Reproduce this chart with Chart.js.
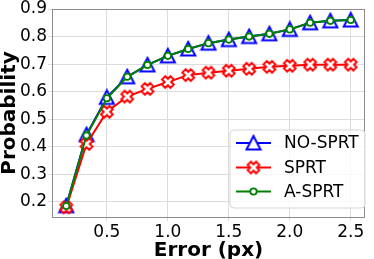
<!DOCTYPE html>
<html><head><meta charset="utf-8">
<script src="https://cdn.jsdelivr.net/npm/chart.js@4/dist/chart.umd.min.js"></script>
<style>html,body{margin:0;padding:0;background:#fff}#wrap{width:374px;height:259px}</style>
</head><body><div id="wrap"><canvas id="c" width="374" height="259"></canvas></div>
<script>
const errors = [0.167, 0.333, 0.5, 0.667, 0.833, 1.0, 1.167, 1.333, 1.5, 1.667, 1.833, 2.0, 2.167, 2.333, 2.5];
const noSprt = [0.186, 0.444, 0.579, 0.654, 0.697, 0.730, 0.755, 0.776, 0.789, 0.800, 0.810, 0.826, 0.850, 0.857, 0.860];
const sprt   = [0.180, 0.410, 0.527, 0.582, 0.610, 0.635, 0.660, 0.669, 0.676, 0.683, 0.690, 0.694, 0.698, 0.698, 0.698];
const aSprt  = [0.185, 0.441, 0.576, 0.654, 0.697, 0.730, 0.755, 0.776, 0.789, 0.800, 0.810, 0.826, 0.850, 0.857, 0.860];
const seriesLabels = ['NO-SPRT', 'SPRT', 'A-SPRT'];
const xTicks = [0.5, 1.0, 1.5, 2.0, 2.5];
const yTicks = [0.2, 0.3, 0.4, 0.5, 0.6, 0.7, 0.8, 0.9];

Chart.defaults.font.family = 'DejaVu Sans';
Chart.defaults.color = '#000';

function triImg(){
  const c = document.createElement('canvas'); c.width = 18; c.height = 18;
  const g = c.getContext('2d');
  g.beginPath(); g.moveTo(9, 2); g.lineTo(2, 15.5); g.lineTo(16, 15.5); g.closePath();
  g.fillStyle = '#fff'; g.fill();
  g.lineWidth = 2; g.strokeStyle = '#0000ff'; g.lineJoin = 'miter'; g.stroke();
  return c;
}
function xImg(){
  const c = document.createElement('canvas'); c.width = 18; c.height = 18;
  const g = c.getContext('2d');
  const a = 2.3, b = 6.0;
  const pts = [[a,b],[a,a],[b,a],[b,-a],[a,-a],[a,-b],[-a,-b],[-a,-a],[-b,-a],[-b,a],[-a,a],[-a,b]];
  g.translate(9, 9); g.rotate(Math.PI/4);
  g.beginPath();
  pts.forEach((p,i)=>{ i ? g.lineTo(p[0],p[1]) : g.moveTo(p[0],p[1]); });
  g.closePath();
  g.fillStyle = '#fff'; g.fill();
  g.lineWidth = 2; g.strokeStyle = '#ff0000'; g.lineJoin = 'miter'; g.stroke();
  return c;
}
const tri = triImg(), xm = xImg();

function pts(ys){ return errors.map((x,i)=>({x:x, y:ys[i]})); }

const frame = {
  id: 'frame',
  beforeDatasetsDraw(chart){
    const {ctx, chartArea:a} = chart;
    ctx.save(); ctx.strokeStyle = '#8c8c8c'; ctx.lineWidth = 1;
    ctx.strokeRect(Math.round(a.left)+0.5, Math.round(a.top)+0.5, Math.round(a.right-a.left)-1, Math.round(a.bottom-a.top));
    ctx.restore();
  }
};
const legendBox = {
  id: 'legendBox',
  afterDraw(chart){
    const ctx = chart.ctx;
    const x0 = 230, y0 = 130, w = 135, h = 78, r = 4;
    ctx.save();
    ctx.beginPath();
    ctx.moveTo(x0+r, y0); ctx.lineTo(x0+w-r, y0); ctx.arcTo(x0+w, y0, x0+w, y0+r, r);
    ctx.lineTo(x0+w, y0+h-r); ctx.arcTo(x0+w, y0+h, x0+w-r, y0+h, r);
    ctx.lineTo(x0+r, y0+h); ctx.arcTo(x0, y0+h, x0, y0+h-r, r);
    ctx.lineTo(x0, y0+r); ctx.arcTo(x0, y0, x0+r, y0, r); ctx.closePath();
    ctx.fillStyle = 'rgba(255,255,255,0.8)'; ctx.fill();
    ctx.strokeStyle = '#d6d6d6'; ctx.lineWidth = 1; ctx.stroke();
    const rows = [143, 167.5, 191.5];
    chart.data.datasets.forEach((ds, i) => {
      const y = rows[i];
      ctx.strokeStyle = ds.borderColor; ctx.lineWidth = 2;
      ctx.beginPath(); ctx.moveTo(236, y); ctx.lineTo(271, y); ctx.stroke();
      if (i === 0) ctx.drawImage(tri, 253.5-9, y-9);
      else if (i === 1) ctx.drawImage(xm, 253.5-9, y-9);
      else { ctx.beginPath(); ctx.arc(253.5, y, 3.2, 0, Math.PI*2); ctx.fillStyle='#fff'; ctx.fill(); ctx.strokeStyle = ds.borderColor; ctx.lineWidth=1.8; ctx.stroke(); }
      ctx.fillStyle = '#000'; ctx.font = '17px "DejaVu Sans"'; ctx.textBaseline = 'middle'; ctx.textAlign = 'left';
      ctx.fillText(ds.label, 284, y+1);
    });
    ctx.restore();
  }
};

new Chart(document.getElementById('c'), {
  type: 'line',
  data: { datasets: [
    { label: seriesLabels[0], data: pts(noSprt), borderColor: '#0000ff', borderWidth: 2, pointStyle: tri, pointRadius: 7, order: 3 },
    { label: seriesLabels[1], data: pts(sprt), borderColor: '#ff0000', borderWidth: 2, pointStyle: xm, pointRadius: 7, order: 2 },
    { label: seriesLabels[2], data: pts(aSprt), borderColor: '#008000', backgroundColor: '#fff', borderWidth: 2, pointStyle: 'circle', pointRadius: 3.2, pointBorderWidth: 1.8, order: 1 }
  ]},
  options: {
    responsive: false, animation: false, devicePixelRatio: 1,
    layout: { padding: { top: 6, right: 1, left: 0, bottom: 0 } },
    plugins: { legend: { display: false }, tooltip: { enabled: false } },
    elements: { line: { tension: 0 } },
    scales: {
      x: {
        type: 'linear', min: 0.05, max: 2.617,
        afterBuildTicks: s => { s.ticks = xTicks.map(v => ({ value: v })); },
        afterFit: s => { s.height = 42; s.paddingLeft = 0; s.paddingRight = 0; },
        ticks: { font: { size: 17 }, padding: 1, maxRotation: 0, autoSkip: false, callback: v => v.toFixed(1) },
        grid: { color: '#dcdcdc', lineWidth: 1, tickLength: 4 },
        border: { display: false },
        title: { display: true, text: 'Error (px)', font: { size: 20, weight: 'bold', lineHeight: 1 }, padding: { top: 0, bottom: -2 } }
      },
      y: {
        min: 0.145, max: 0.9,
        afterBuildTicks: s => { s.ticks = yTicks.map(v => ({ value: v })); },
        afterFit: s => { s.width = 52; s.paddingTop = 0; s.paddingBottom = 0; },
        ticks: { font: { size: 17 }, padding: 1, autoSkip: false, callback: v => v.toFixed(1) },
        grid: { color: '#dcdcdc', lineWidth: 1, tickLength: 4 },
        border: { display: false },
        title: { display: true, text: 'Probability', font: { size: 20, weight: 'bold', lineHeight: 1 }, padding: { top: 0, bottom: 0 } }
      }
    }
  },
  plugins: [frame, legendBox]
});
</script></body></html>
